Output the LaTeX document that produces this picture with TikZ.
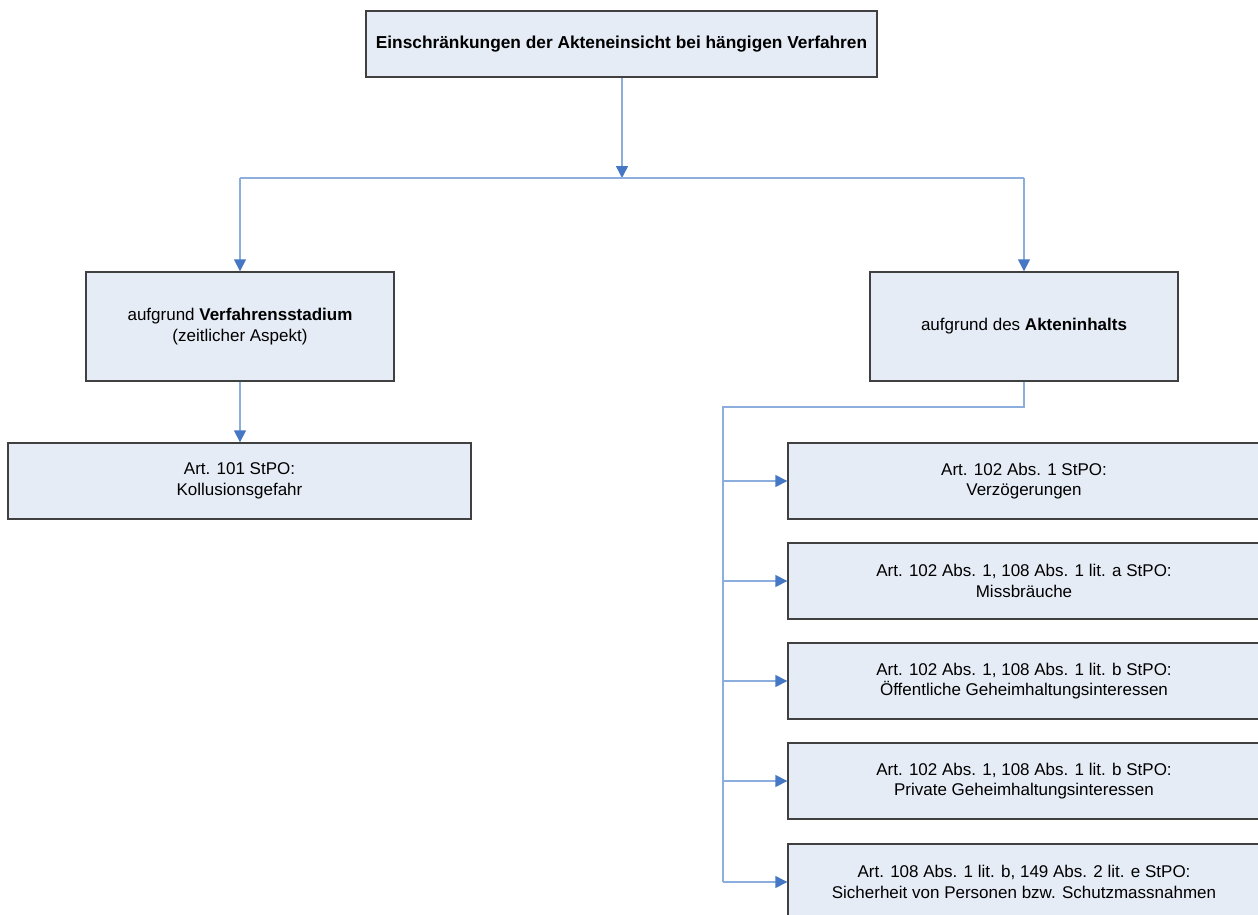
\documentclass[tikz,border=0pt]{standalone}
\usepackage{fontspec}
\setmainfont{Liberation Sans}
\usetikzlibrary{arrows.meta}
\definecolor{boxfill}{HTML}{E6ECF6}
\definecolor{boxline}{HTML}{404040}
\definecolor{linkline}{HTML}{8CAEDD}
\definecolor{tipblue}{HTML}{4677C5}
\tikzset{
  box/.style={draw=boxline, fill=boxfill, line width=1.4pt, rectangle,
    inner sep=0pt, align=center, anchor=center,
    font=\fontsize{17}{20.5}\selectfont},
  link/.style={draw=linkline, line width=1.5pt},
  arrowlink/.style={link, -{Triangle[length=12pt,width=12pt,color=tipblue]}}
}
\begin{document}
\begin{tikzpicture}[x=1pt,y=-1pt]
  \useasboundingbox (0,0) rectangle (1258,915);
  \begin{scope}
    \clip (0,0) rectangle (1258,915);

    % top level
    \node[box, minimum width=511pt, minimum height=66pt] (top) at (621.5,44)
      {\fontsize{17.3}{20.5}\selectfont\textbf{Einschränkungen der Akteneinsicht bei hängigen Verfahren}};

    % second level
    \node[box, minimum width=308pt, minimum height=109pt] (lmid) at (240,326.5)
      {aufgrund \textbf{Verfahrensstadium}\\(zeitlicher Aspekt)};
    \node[box, minimum width=308pt, minimum height=109pt] (rmid) at (1024,326.5)
      {aufgrund des \textbf{Akteninhalts}};

    % left branch
    \node[box, minimum width=463pt, minimum height=76pt] (lbot) at (239.5,481)
      {Art. 101 StPO:\\Kollusionsgefahr};

    % right branch
    \node[box, minimum width=472pt, minimum height=76pt] (r1) at (1024,481)
      {Art. 102 Abs. 1 StPO:\\Verzögerungen};
    \node[box, minimum width=472pt, minimum height=76pt] (r2) at (1024,581)
      {Art. 102 Abs. 1, 108 Abs. 1 lit. a StPO:\\Missbräuche};
    \node[box, minimum width=472pt, minimum height=76pt] (r3) at (1024,681)
      {Art. 102 Abs. 1, 108 Abs. 1 lit. b StPO:\\Öffentliche Geheimhaltungsinteressen};
    \node[box, minimum width=472pt, minimum height=76pt] (r4) at (1024,781)
      {Art. 102 Abs. 1, 108 Abs. 1 lit. b StPO:\\Private Geheimhaltungsinteressen};
    \node[box, minimum width=472pt, minimum height=76pt] (r5) at (1024,882)
      {Art. 108 Abs. 1 lit. b, 149 Abs. 2 lit. e StPO:\\Sicherheit von Personen bzw. Schutzmassnahmen};

    % connectors
    \coordinate (hub) at (622,178);
    \coordinate (rbus) at (723,407);

    \draw[arrowlink] (top.south -| hub) -- (hub);
    \draw[link] (lmid.north |- hub) -- (rmid.north |- hub);
    \draw[arrowlink] (lmid.north |- hub) -- (lmid.north);
    \draw[arrowlink] (rmid.north |- hub) -- (rmid.north);

    \draw[arrowlink] (lmid.south) -- (lmid.south |- lbot.north);

    \draw[link] (rmid.south) |- (rbus) -- (rbus |- r5.west);
    \foreach \n in {r1,r2,r3,r4,r5}
      \draw[arrowlink] (rbus |- \n.west) -- (\n.west);
  \end{scope}
\end{tikzpicture}
\end{document}
